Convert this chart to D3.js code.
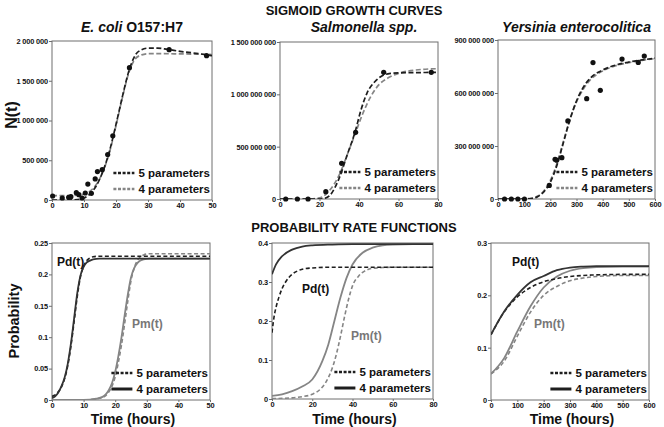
<!DOCTYPE html>
<html><head><meta charset="utf-8">
<script src="https://cdn.jsdelivr.net/npm/d3@7"></script>
<style>
body{margin:0;background:#fff;}
text{font-family:"Liberation Sans",Arial,sans-serif;font-weight:bold;}
</style></head>
<body><svg id="c" width="664" height="427"></svg>
<script>
// ---------- DATA ----------
// Top row: observed points and fitted curves
const ecoliPtT = [0.2,3.2,5.2,5.9,7.6,8.4,9.4,10.4,11.2,12.3,13.5,14.2,15.7,17.4,19.0,24.2,36.6,48.3];
const ecoliPtN = [50000,25000,34000,42000,92000,67000,25000,88000,200000,84000,265000,357000,382000,571000,807000,1664000,1891000,1815000];
const ecoliF5T = [0,4,8,10,12,14,16,18,20,22,24,26,28,30,33,36,40,45,50];
const ecoliF5N = [0,0,5000,25000,80000,190000,370000,620000,950000,1300000,1620000,1820000,1890000,1910000,1910000,1895000,1870000,1845000,1815000];
const ecoliF4T = [0,4,8,10,12,14,16,18,20,22,24,26,28,30,35,40,45,50];
const ecoliF4N = [55000,55000,60000,75000,115000,205000,365000,605000,935000,1290000,1600000,1775000,1825000,1840000,1840000,1838000,1835000,1830000];

const salmPtT = [2.9,8.8,14.2,23.2,31.2,38.3,52.5,76.6];
const salmPtN = [0,0,0,70e6,341e6,637e6,1210e6,1210e6];
const salmF5T = [0,10,20,22,25,30,34,38,41,44,48,52,56,60,70,80];
const salmF5N = [0,0,0,4e6,30e6,200e6,420e6,640e6,850e6,1010e6,1120e6,1180e6,1200e6,1205e6,1208e6,1210e6];
const salmF4T = [0,10,15,20,25,30,34,38,42,46,50,55,60,70,80];
const salmF4N = [0,0,2e6,10e6,80e6,230e6,420e6,620e6,820e6,980e6,1090e6,1160e6,1200e6,1235e6,1245e6];

const yersPtT = [25,51,76,101,196,218,224,244,267,339,363,391,474,536,559];
const yersPtN = [0,0,0,0,77e6,225e6,220e6,234e6,442e6,568e6,772e6,615e6,792e6,773e6,809e6];
const yersF5T = [0,100,130,150,175,200,225,250,275,300,325,350,400,450,500,550,600];
const yersF5N = [0,0,3e6,12e6,40e6,95e6,190e6,320e6,450e6,555e6,630e6,680e6,730e6,758e6,775e6,787e6,797e6];
const yersF4T = [0,100,120,150,175,200,225,250,275,300,325,350,400,450,500,550,600];
const yersF4N = [0,0,3e6,15e6,45e6,105e6,200e6,325e6,450e6,550e6,620e6,670e6,725e6,755e6,772e6,785e6,795e6];

// Bottom row: probability rate functions
const ecPdT = [0,1,2,3,4,5,6,7,8,9,10,11,12,13,15,20,50];
const ecPd4 = [0.003,0.006,0.012,0.022,0.036,0.058,0.09,0.13,0.17,0.198,0.212,0.219,0.222,0.224,0.225,0.225,0.225];
const ecPd5 = [0.006,0.008,0.013,0.021,0.034,0.055,0.086,0.125,0.165,0.196,0.213,0.222,0.226,0.228,0.229,0.229,0.229];
const ecPmT = [0,10,14,16,17,18,19,20,21,22,23,24,25,26,27,28,29,31,35,50];
const ecPm4 = [0,0,0.002,0.005,0.009,0.016,0.027,0.045,0.07,0.1,0.135,0.168,0.195,0.21,0.218,0.222,0.224,0.225,0.225,0.225];
const ecPm5 = [0,0,0.002,0.004,0.007,0.013,0.022,0.037,0.06,0.088,0.122,0.158,0.19,0.21,0.222,0.228,0.231,0.233,0.233,0.233];

const saPd4T = [0,2,5,10,15,20,30,40,60,80];
const saPd4 = [0.32,0.345,0.366,0.383,0.391,0.394,0.396,0.397,0.397,0.397];
const saPd5T = [0,1,2,3.5,5,7,10,13,16,20,30,40,60,80];
const saPd5 = [0.17,0.21,0.235,0.262,0.283,0.302,0.32,0.329,0.334,0.336,0.338,0.338,0.338,0.338];
const saPm4T = [0,5,10,15,20,25,28,31,34,37,40,45,50,55,60,70,80];
const saPm4 = [0.008,0.012,0.02,0.032,0.05,0.097,0.14,0.2,0.26,0.31,0.345,0.375,0.388,0.394,0.396,0.397,0.397];
const saPm5T = [0,10,15,20,24,27,30,32,34,36,38,40,43,46,50,55,60,80];
const saPm5 = [0.001,0.003,0.006,0.012,0.025,0.045,0.08,0.115,0.16,0.21,0.255,0.29,0.315,0.328,0.335,0.337,0.338,0.338];

const yeT = [0,50,100,150,200,250,300,350,400,500,600];
const yePd4 = [0.125,0.169,0.201,0.225,0.237,0.248,0.253,0.255,0.256,0.256,0.256];
const yePd5 = [0.125,0.168,0.197,0.215,0.226,0.232,0.236,0.238,0.239,0.24,0.24];
const yePm4 = [0.05,0.08,0.131,0.179,0.215,0.236,0.247,0.252,0.254,0.255,0.255];
const yePm5 = [0.05,0.074,0.122,0.168,0.2,0.217,0.228,0.233,0.236,0.238,0.238];

// Axis ticks
const ecoliXTicks = [0,10,20,30,40,50];
const salmXTicks = [0,20,40,60,80];
const yersXTicks = [0,100,200,300,400,500,600];
const ecoliYTicks = [0,500000,1000000,1500000,2000000];
const salmYTicks = [0,500000000,1000000000,1500000000];
const yersYTicks = [0,300000000,600000000,900000000];
const ecProbTicks = [0,0.05,0.1,0.15,0.2,0.25];
const saProbTicks = [0,0.1,0.2,0.3,0.4];
const yeProbTicks = [0,0.1,0.2,0.3];

const speciesTitles = [["E. coli"," O157:H7"],["Salmonella spp.",""],["Yersinia enterocolitica",""]];
const legendLabels = ["5 parameters","4 parameters"];

// ---------- DRAWING ----------
const svg = d3.select("#c");
const DARK="#1e1e1e", GREY="#858585", FRAME="#6e6e6e";
const zip=(a,b)=>a.map((v,i)=>[v,b[i]]);
const spaceFmt = v => d3.format(",")(v).replace(/,/g," ");

function panel(box, xDom, yDom, xTicks, yTicks, yFmt){
  const g = svg.append("g");
  const x = d3.scaleLinear().domain(xDom).range([box.l, box.r]);
  const y = d3.scaleLinear().domain(yDom).range([box.b, box.t]);
  const cid = "clip"+Math.round(box.l)+"_"+Math.round(box.t);
  svg.append("clipPath").attr("id",cid).append("rect")
    .attr("x",box.l).attr("y",box.t-2).attr("width",box.r-box.l).attr("height",box.b-box.t+2);
  const ax = g.append("g").attr("transform",`translate(0,${box.b})`)
    .call(d3.axisBottom(x).tickValues(xTicks).tickSize(2).tickPadding(1).tickFormat(d=>d));
  const ay = g.append("g").attr("transform",`translate(${box.l},0)`)
    .call(d3.axisLeft(y).tickValues(yTicks).tickSize(3).tickPadding(1).tickFormat(yFmt));
  [ax,ay].forEach(a=>{
    a.select(".domain").remove();
    a.selectAll("line").attr("stroke",FRAME);
    a.selectAll("text").attr("font-size","7.4px").attr("fill","#111").style("letter-spacing","-0.15px");
  });
  g.append("rect").attr("x",box.l).attr("y",box.t).attr("width",box.r-box.l).attr("height",box.b-box.t)
    .attr("fill","none").attr("stroke",FRAME).attr("stroke-width",1);
  const plot = svg.append("g").attr("clip-path",`url(#${cid})`);
  return {x,y,plot,box};
}
function curve(p, pts, color, dash, w){
  const line = d3.line().x(d=>p.x(d[0])).y(d=>p.y(d[1])).curve(d3.curveMonotoneX);
  p.plot.append("path").attr("d",line(pts)).attr("fill","none").attr("stroke",color)
    .attr("stroke-width",w).attr("stroke-dasharray",dash);
}
function points(p, pts){
  svg.append("g").selectAll("circle").data(pts).join("circle")
    .attr("cx",d=>p.x(d[0])).attr("cy",d=>p.y(d[1])).attr("r",2.6).attr("fill","#111");
}
function legend(p, style2color, style2dash, style2w){
  const xr = p.box.r-2;
  const ys=[p.box.b-23, p.box.b-7];
  legendLabels.forEach((lab,i)=>{
    const t = svg.append("text").attr("x",xr).attr("y",ys[i]).attr("text-anchor","end")
      .attr("font-size","11.5px").attr("fill","#111").text(lab);
    const w = t.node().getComputedTextLength();
    const x0 = xr-w-25, x1 = xr-w-4;
    const col = i===0? DARK : style2color;
    const dash = i===0? "3,1.6" : style2dash;
    const sw = i===0? 2.6 : style2w;
    svg.append("line").attr("x1",x0).attr("x2",x1).attr("y1",ys[i]-4).attr("y2",ys[i]-4)
      .attr("stroke",col).attr("stroke-width",sw).attr("stroke-dasharray",dash);
  });
}

// Main titles
svg.append("text").attr("x",354).attr("y",15).attr("text-anchor","middle").attr("font-size","13px").attr("fill","#111").text("SIGMOID GROWTH CURVES");
svg.append("text").attr("x",354).attr("y",232).attr("text-anchor","middle").attr("font-size","13px").attr("fill","#111").text("PROBABILITY RATE FUNCTIONS");

// Top row
const tops = [
  {box:{l:52,r:212,t:41,b:200}, xd:[0,50], yd:[0,2000000], xt:ecoliXTicks, yt:ecoliYTicks,
   pts:zip(ecoliPtT,ecoliPtN), f5:zip(ecoliF5T,ecoliF5N), f4:zip(ecoliF4T,ecoliF4N)},
  {box:{l:280,r:438,t:42,b:199}, xd:[0,80], yd:[0,1500000000], xt:salmXTicks, yt:salmYTicks,
   pts:zip(salmPtT,salmPtN), f5:zip(salmF5T,salmF5N), f4:zip(salmF4T,salmF4N)},
  {box:{l:498,r:655,t:40,b:199}, xd:[0,600], yd:[0,900000000], xt:yersXTicks, yt:yersYTicks,
   pts:zip(yersPtT,yersPtN), f5:zip(yersF5T,yersF5N), f4:zip(yersF4T,yersF4N)}
];
tops.forEach((c,i)=>{
  const p = panel(c.box,c.xd,c.yd,c.xt,c.yt,spaceFmt);
  curve(p,c.f4,GREY,"5,2.5",1.7);
  curve(p,c.f5,DARK,"5,2.5",1.7);
  points(p,c.pts);
  legend(p,GREY,"3,1.6",2.6);
  const cx = (c.box.l+c.box.r)/2 + (i===1?5:0);
  const tt = svg.append("text").attr("x",cx).attr("y",32).attr("text-anchor","middle").attr("font-size","14px").attr("fill","#111");
  tt.append("tspan").attr("font-style","italic").text(speciesTitles[i][0]);
  if(speciesTitles[i][1]) tt.append("tspan").text(speciesTitles[i][1]);
});
svg.append("text").attr("transform","translate(17,115) rotate(-90)").attr("text-anchor","middle").attr("font-size","16px").attr("fill","#111").text("N(t)");

// Bottom row
const bots = [
  {box:{l:52,r:210,t:243,b:400}, xd:[0,50], yd:[0,0.25], xt:ecoliXTicks, yt:ecProbTicks,
   pd4:zip(ecPdT,ecPd4), pd5:zip(ecPdT,ecPd5), pm4:zip(ecPmT,ecPm4), pm5:zip(ecPmT,ecPm5),
   pdL:[57,266], pmL:[132,328]},
  {box:{l:272,r:433,t:243,b:399}, xd:[0,80], yd:[0,0.4], xt:salmXTicks, yt:saProbTicks,
   pd4:zip(saPd4T,saPd4), pd5:zip(saPd5T,saPd5), pm4:zip(saPm4T,saPm4), pm5:zip(saPm5T,saPm5),
   pdL:[302,293], pmL:[351,340]},
  {box:{l:491,r:649,t:243,b:400}, xd:[0,600], yd:[0,0.3], xt:yersXTicks, yt:yeProbTicks,
   pd4:zip(yeT,yePd4), pd5:zip(yeT,yePd5), pm4:zip(yeT,yePm4), pm5:zip(yeT,yePm5),
   pdL:[512,266], pmL:[534,328]}
];
bots.forEach(c=>{
  const p = panel(c.box,c.xd,c.yd,c.xt,c.yt,d=>d);
  curve(p,c.pm5,GREY,"4,2.5",1.6);
  curve(p,c.pm4,GREY,null,1.8);
  curve(p,c.pd5,DARK,"4,2.5",1.6);
  curve(p,c.pd4,"#333",null,1.8);
  legend(p,DARK,null,3);
  svg.append("text").attr("x",c.pdL[0]).attr("y",c.pdL[1]).attr("font-size","12px").attr("fill","#111").text("Pd(t)");
  svg.append("text").attr("x",c.pmL[0]).attr("y",c.pmL[1]).attr("font-size","12px").attr("fill","#777").text("Pm(t)");
  svg.append("text").attr("x",(c.box.l+c.box.r)/2+2).attr("y",424).attr("text-anchor","middle").attr("font-size","14px").attr("fill","#111").text("Time (hours)");
});
svg.append("text").attr("transform","translate(19,321) rotate(-90)").attr("text-anchor","middle").attr("font-size","14.5px").attr("fill","#111").text("Probability");
</script></body></html>
